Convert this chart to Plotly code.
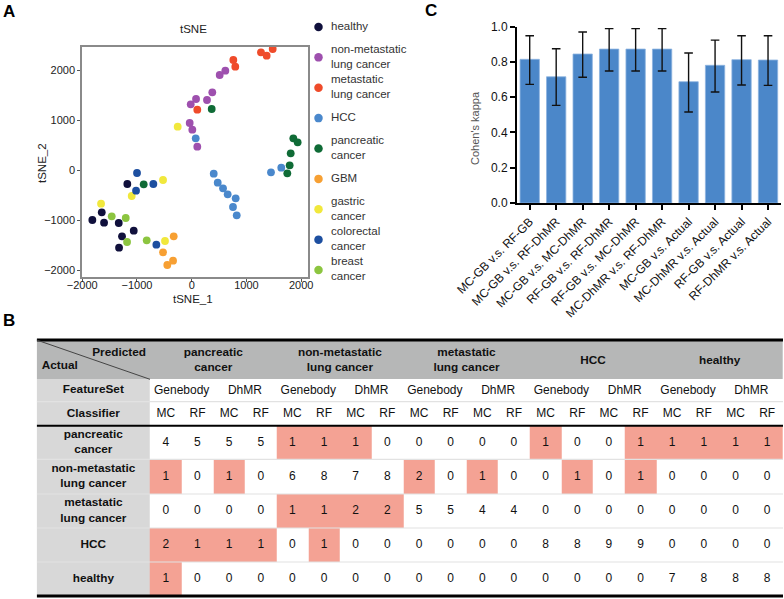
import plotly.graph_objects as go

W, H = 784, 599
FONT = "Arial, 'Liberation Sans', sans-serif"

# ---------------- Panel A data (tSNE) ----------------
group_names = ["healthy", "non-metastatic<br>lung cancer", "metastatic<br>lung cancer", "HCC",
               "pancreatic<br>cancer", "GBM", "gastric<br>cancer", "colorectal<br>cancer", "breast<br>cancer"]
group_colors = ["#10103c", "#9e50ae", "#ef4b2a", "#4a88cc", "#0f6b36", "#f7a033", "#f1e83c", "#1d4fa0", "#8cc540"]

healthy_x = [-1176, -1643, -1815, -1601, -1333, -1059, -1273, -1327]
healthy_y = [-280, -847, -1000, -1053, -1060, -1213, -1327, -1553]
nonmet_x = [511, 614, 376, 279, 79, -18, -37, 11, 102]
nonmet_y = [1900, 1987, 1553, 1400, 1420, 1313, 940, 807, 467]
met_x = [1265, 1369, 1479, 760, 796, 102]
met_y = [2353, 2287, 2420, 2200, 2067, 1207]
hcc_x = [73, 402, 475, 572, 657, 803, 754, 822, 1448, 1636]
hcc_y = [633, -73, -253, -367, -487, -567, -740, -907, -47, 47]
panc_x = [365, 1856, 1935, 1808, 1789, 1746, -877]
panc_y = [1220, 633, 553, 333, 93, -67, -287]
gbm_x = [-329, -524, -446, -341]
gbm_y = [-1327, -1647, -1900, -1813]
gastric_x = [-256, -524, -1096, -1656, -488]
gastric_y = [867, -200, -520, -673, -1420]
crc_x = [-999, -701, -1017, -646]
crc_y = [-60, -280, -413, -1493]
breast_x = [-1461, -1205, -1181, -822]
breast_y = [-927, -960, -1440, -1407]

group_xs = [healthy_x, nonmet_x, met_x, hcc_x, panc_x, gbm_x, gastric_x, crc_x, breast_x]
group_ys = [healthy_y, nonmet_y, met_y, hcc_y, panc_y, gbm_y, gastric_y, crc_y, breast_y]

# ---------------- Panel C data (Cohen's kappa) ----------------
pairs = ["MC-GB v.s. RF-GB", "MC-GB v.s. RF-DhMR", "MC-GB v.s. MC-DhMR", "RF-GB v.s. RF-DhMR",
         "RF-GB v.s. MC-DhMR", "MC-DhMR v.s. RF-DhMR", "MC-GB v.s. Actual", "MC-DhMR v.s. Actual",
         "RF-GB v.s. Actual", "RF-DhMR v.s. Actual"]
kappa = [0.815, 0.716, 0.845, 0.873, 0.873, 0.873, 0.688, 0.781, 0.813, 0.811]
kappa_upper = [0.949, 0.875, 0.970, 0.989, 0.989, 0.989, 0.851, 0.924, 0.949, 0.949]
kappa_lower = [0.673, 0.554, 0.713, 0.749, 0.749, 0.749, 0.516, 0.630, 0.669, 0.667]

# ---------------- Panel B data (confusion table) ----------------
pred_groups = ["pancreatic<br>cancer", "non-metastatic<br>lung cancer", "metastatic<br>lung cancer", "HCC", "healthy"]
actual_groups = ["pancreatic<br>cancer", "non-metastatic<br>lung cancer", "metastatic<br>lung cancer", "HCC", "healthy"]
feature_sets = ["Genebody", "DhMR"]
classifiers = ["MC", "RF"]
counts_pancreatic = [4, 5, 5, 5, 1, 1, 1, 0, 0, 0, 0, 0, 1, 0, 0, 1, 1, 1, 1, 1]
counts_nonmet = [1, 0, 1, 0, 6, 8, 7, 8, 2, 0, 1, 0, 0, 1, 0, 1, 0, 0, 0, 0]
counts_met = [0, 0, 0, 0, 1, 1, 2, 2, 5, 5, 4, 4, 0, 0, 0, 0, 0, 0, 0, 0]
counts_hcc = [2, 1, 1, 1, 0, 1, 0, 0, 0, 0, 0, 0, 8, 8, 9, 9, 0, 0, 0, 0]
counts_healthy = [1, 0, 0, 0, 0, 0, 0, 0, 0, 0, 0, 0, 0, 0, 0, 0, 7, 8, 8, 8]
counts = [counts_pancreatic, counts_nonmet, counts_met, counts_hcc, counts_healthy]


def px(x):
    return x / W


def py(y):
    return 1 - y / H


fig = go.Figure()

# ---- Panel A scatter ----
for name, col, xs, ys in zip(group_names, group_colors, group_xs, group_ys):
    fig.add_trace(go.Scatter(x=xs, y=ys, mode="markers", xaxis="x", yaxis="y",
                             marker=dict(size=7.8, color=col), showlegend=False, hoverinfo="skip"))

# ---- Panel A legend (drawn on its own hidden axes) ----
leg_idx = list(range(len(group_names)))
fig.add_trace(go.Scatter(x=[6.5] * len(group_names), y=leg_idx, mode="markers", xaxis="x2", yaxis="y2",
                         marker=dict(size=8.5, color=group_colors), showlegend=False, hoverinfo="skip"))
fig.add_trace(go.Scatter(x=[19] * len(group_names), y=leg_idx, mode="text", xaxis="x2", yaxis="y2",
                         text=group_names, textposition="middle right", cliponaxis=False,
                         textfont=dict(size=11.5, color="#333", family=FONT),
                         showlegend=False, hoverinfo="skip"))

# ---- Panel C bars ----
fig.add_trace(go.Bar(x=pairs, y=kappa, xaxis="x3", yaxis="y3",
                     marker=dict(color="#4b87c9", line=dict(color="#8db4e0", width=0.8)),
                     error_y=dict(type="data", symmetric=False,
                                  array=[u - k for u, k in zip(kappa_upper, kappa)],
                                  arrayminus=[k - l for k, l in zip(kappa, kappa_lower)],
                                  color="#111", thickness=1.4, width=4.3),
                     showlegend=False, hoverinfo="skip"))

# ---- Panel B table ----
label_w = 113.3
col_w = 31.65
row_h = [39.3, 22.4, 24.0, 33.6, 34.7, 34.0, 34.0, 34.0]
x_edges = [0, label_w] + [label_w + col_w * (i + 1) for i in range(20)]
y_edges = [0]
for h in row_h:
    y_edges.append(y_edges[-1] + h)
x_cent = [(x_edges[i] + x_edges[i + 1]) / 2 for i in range(21)]
y_cent = [(y_edges[i] + y_edges[i + 1]) / 2 for i in range(8)]
ngrp = len(pred_groups)

# cell colour codes: 0 white, 1 salmon (misclassified), 2 light grey, 3 header grey
z = [[3] * 21, [2] + [0] * 20, [2] + [0] * 20]
for r, row in enumerate(counts):
    zr = [2]
    for c, v in enumerate(row):
        zr.append(1 if (c // 4 != r and v > 0) else 0)
    z.append(zr)
fig.add_trace(go.Heatmap(z=z, x=x_edges, y=y_edges, xaxis="x4", yaxis="y4", zmin=0, zmax=3,
                         colorscale=[[0, "#ffffff"], [0.1667, "#ffffff"], [0.1667, "#f4a294"], [0.5, "#f4a294"],
                                     [0.5, "#d8d8d8"], [0.8333, "#d8d8d8"], [0.8333, "#b6b7b7"], [1, "#b6b7b7"]],
                         showscale=False, hoverinfo="skip"))

tx, ty, tt = [], [], []
for g, name in enumerate(pred_groups):
    tx.append((x_edges[1 + 4 * g] + x_edges[5 + 4 * g]) / 2)
    ty.append(y_cent[0] + 1)
    tt.append("<b>" + name + "</b>")
for lab, yc in zip(["FeatureSet", "Classifier"], y_cent[1:3]):
    tx.append(x_cent[0]); ty.append(yc); tt.append("<b>" + lab + "</b>")
for r, name in enumerate(actual_groups):
    tx.append(x_cent[0]); ty.append(y_cent[3 + r]); tt.append("<b>" + name + "</b>")
fig.add_trace(go.Scatter(x=tx, y=ty, text=tt, mode="text", xaxis="x4", yaxis="y4", cliponaxis=False,
                         textfont=dict(size=11.8, color="#111", family=FONT),
                         showlegend=False, hoverinfo="skip"))

vx, vy, vt = [], [], []
for g in range(ngrp):
    for f, fs in enumerate(feature_sets):
        vx.append((x_edges[1 + 4 * g + 2 * f] + x_edges[3 + 4 * g + 2 * f]) / 2)
        vy.append(y_cent[1]); vt.append(fs)
        for k, cl in enumerate(classifiers):
            vx.append(x_cent[1 + 4 * g + 2 * f + k]); vy.append(y_cent[2]); vt.append(cl)
for r, row in enumerate(counts):
    for c, v in enumerate(row):
        vx.append(x_cent[1 + c]); vy.append(y_cent[3 + r]); vt.append(str(v))
fig.add_trace(go.Scatter(x=vx, y=vy, text=vt, mode="text", xaxis="x4", yaxis="y4", cliponaxis=False,
                         textfont=dict(size=12, color="#111", family=FONT),
                         showlegend=False, hoverinfo="skip"))

fig.add_trace(go.Scatter(x=[label_w - 4], y=[y_edges[1] * 0.33], text=["<b>Predicted</b>"], mode="text",
                         textposition="middle left", xaxis="x4", yaxis="y4", cliponaxis=False,
                         textfont=dict(size=11.8, color="#111", family=FONT), showlegend=False, hoverinfo="skip"))
fig.add_trace(go.Scatter(x=[5], y=[y_edges[1] * 0.67], text=["<b>Actual</b>"], mode="text",
                         textposition="middle right", xaxis="x4", yaxis="y4", cliponaxis=False,
                         textfont=dict(size=11.8, color="#111", family=FONT), showlegend=False, hoverinfo="skip"))

shapes = []
tw = x_edges[-1]
for ye in [y_edges[2]] + y_edges[4:8]:
    shapes.append(dict(type="line", xref="x4", yref="y4", x0=0, x1=tw, y0=ye, y1=ye,
                       line=dict(color="#e2e2e2", width=1.2)))
shapes.append(dict(type="line", xref="x4", yref="y4", x0=0, x1=tw, y0=0, y1=0, line=dict(color="#000", width=3)))
shapes.append(dict(type="line", xref="x4", yref="y4", x0=0, x1=tw, y0=y_edges[3], y1=y_edges[3],
                   line=dict(color="#000", width=2)))
shapes.append(dict(type="line", xref="x4", yref="y4", x0=0, x1=tw, y0=y_edges[-1], y1=y_edges[-1],
                   line=dict(color="#000", width=3)))
shapes.append(dict(type="line", xref="x4", yref="y4", x0=0, x1=label_w, y0=0, y1=y_edges[1],
                   line=dict(color="#444", width=1)))


def ann(text, x, y, size, color="#222", angle=0):
    return dict(text=text, x=px(x), y=py(y), xref="paper", yref="paper", showarrow=False,
                xanchor="center", yanchor="middle", textangle=angle,
                font=dict(size=size, color=color, family=FONT))


annotations = [
    ann("<b>A</b>", 9, 11, 17, "#000"),
    ann("<b>B</b>", 9, 320, 17, "#000"),
    ann("<b>C</b>", 431, 10, 17, "#000"),
    ann("tSNE", 193, 29, 11.5),
    ann("tSNE_1", 193, 299, 11.5),
    ann("tSNE_2", 42, 163, 11.5, angle=-90),
    ann("Cohen's kappa", 475, 128, 11, "#555", angle=-90),
]

tick_font = dict(size=11, color="#222", family=FONT)
fig.update_layout(
    template="none",
    width=W, height=H, margin=dict(l=0, r=0, t=0, b=0, pad=0, autoexpand=False),
    paper_bgcolor="white", plot_bgcolor="white",
    font=dict(family=FONT, color="#222"),
    showlegend=False,
    bargap=0.27,
    shapes=shapes, annotations=annotations,
    xaxis=dict(domain=[px(82), px(308)], range=[-2004, 2124], anchor="y", automargin=False,
               tickvals=[-2000, -1000, 0, 1000, 2000], ticks="outside", ticklen=3, tickcolor="#555",
               ticklabelstandoff=-6,
               showline=True, mirror=True, linecolor="#8a8a8a", linewidth=1.5,
               showgrid=False, zeroline=False, tickfont=tick_font),
    yaxis=dict(domain=[py(277), py(47)], range=[-2140, 2460], anchor="x", automargin=False,
               tickvals=[-2000, -1000, 0, 1000, 2000], ticks="outside", ticklen=3, tickcolor="#555",
               showline=True, mirror=True, linecolor="#8a8a8a", linewidth=1.5,
               showgrid=False, zeroline=False, tickfont=tick_font),
    xaxis2=dict(domain=[px(312), px(400)], range=[0, 88], anchor="y2", visible=False, automargin=False),
    yaxis2=dict(domain=[py(285.2), py(11.8)], range=[8.5, -0.5], anchor="x2", visible=False, automargin=False),
    xaxis3=dict(domain=[px(517), px(781)], range=[-0.48, 9.49], anchor="y3", automargin=False,
                tickangle=-45, ticks="outside", ticklen=5, tickwidth=1.5, tickcolor="#000",
                showline=True, linecolor="#000", linewidth=2, showgrid=False, zeroline=False,
                tickfont=dict(size=12, color="#111", family=FONT)),
    yaxis3=dict(domain=[py(203), py(26.7)], range=[0, 1], anchor="x3", automargin=False,
                tickvals=[0, 0.2, 0.4, 0.6, 0.8, 1.0], tickformat=".1f",
                ticks="outside", ticklen=5, tickwidth=1.5, tickcolor="#000",
                showline=True, linecolor="#000", linewidth=2, showgrid=False, zeroline=False,
                tickfont=dict(size=12, color="#111", family=FONT)),
    xaxis4=dict(domain=[px(36.7), px(783)], range=[0, x_edges[-1]], anchor="y4", visible=False, automargin=False),
    yaxis4=dict(domain=[py(598), py(338)], range=[258, -2], anchor="x4", visible=False, automargin=False),
)

fig.write_html("out.html", config={"displayModeBar": False},
               post_script="document.body.style.margin='0';document.body.style.overflow='hidden';")
